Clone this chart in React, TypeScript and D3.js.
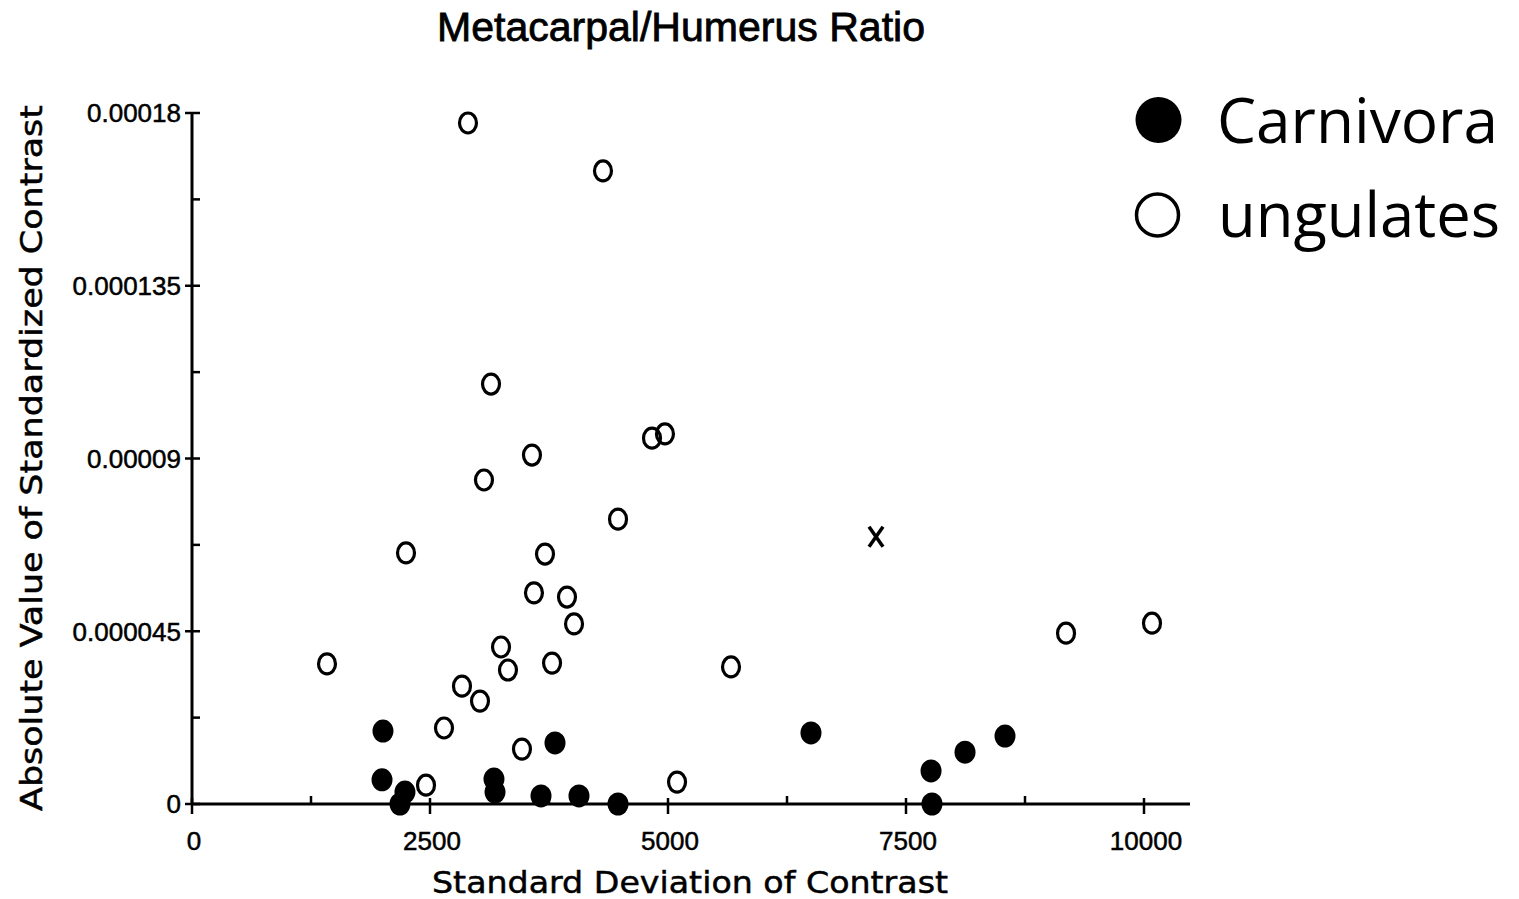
import React from "react";
import { scaleLinear, range } from "d3";

// ungulates (open circles): [sd of contrast, |standardized contrast|]
const ungulatesX = [2899, 4317, 3141, 3571, 4832, 4968, 3067, 4475, 2248, 3708, 3592, 3939, 4013,
  1418, 3246, 3319, 3782, 2836, 3025, 2647, 3466, 2458, 5095, 5662, 9181, 10084];
const ungulatesY = [0.0001774, 0.0001649, 0.0001094, 0.0000909, 0.0000953, 0.0000964, 0.0000844,
  0.0000742, 0.0000654, 0.0000651, 0.000055, 0.0000539, 0.0000469, 0.0000365, 0.0000409, 0.0000349,
  0.0000367, 0.0000307, 0.0000268, 0.0000198, 0.0000143, 0.0000049, 0.0000057, 0.0000357, 0.0000445,
  0.0000471];

// Carnivora (filled circles)
const carnivoraX = [2006, 1996, 2237, 2185, 3172, 3183, 3813, 3666, 4065, 4475, 6502, 7763, 8120, 8540, 7773];
const carnivoraY = [0.000019, 0.0000063, 0.0000031, 0, 0.0000065, 0.0000031, 0.0000159, 0.0000021,
  0.0000021, 0, 0.0000185, 0.0000086, 0.0000135, 0.0000177, 0];

// the single "x" point
const outlierX = [7185];
const outlierY = [0.0000696];

const xTicks = [0, 2500, 5000, 7500, 10000];
const yTicks = [0, 0.000045, 0.00009, 0.000135, 0.00018];
const yTickLabels = ["0", "0.000045", "0.00009", "0.000135", "0.00018"];

const App = () => {
  const width = 1519;
  const height = 899;

  const x = scaleLinear().domain([0, 10000]).range([192, 1144]);
  const y = scaleLinear().domain([0, 0.00018]).range([804, 113]);

  const xMinor = range(1250, 10001, 2500);
  const yMinor = range(0.0000225, 0.00018, 0.000045);

  const tickFont = "'Liberation Sans', Arial, sans-serif";

  const open = ungulatesX.map((d, i) => (
    <ellipse key={"u" + i} cx={x(d)} cy={y(ungulatesY[i])} rx={8.5} ry={10}
      fill="none" stroke="#000" strokeWidth={3.2} />
  ));

  const filled = carnivoraX.map((d, i) => (
    <ellipse key={"c" + i} cx={x(d)} cy={y(carnivoraY[i])} rx={10.5} ry={11.5} fill="#000" />
  ));

  const crosses = outlierX.map((d, i) => {
    const cx = x(d), cy = y(outlierY[i]);
    return (
      <g key={"x" + i} stroke="#000" strokeWidth={3.5}>
        <line x1={cx - 7} y1={cy - 10} x2={cx + 7} y2={cy + 10} />
        <line x1={cx + 7} y1={cy - 10} x2={cx - 7} y2={cy + 10} />
      </g>
    );
  });

  return (
    <svg width={width} height={height} viewBox={`0 0 ${width} ${height}`}
      style={{ position: "absolute", left: 0, top: 0, background: "#fff" }}>
      {/* title */}
      <text x={681} y={41} textAnchor="middle" fontFamily={tickFont} fontSize={41}
        stroke="#000" strokeWidth={0.8}
        textLength={488} lengthAdjust="spacingAndGlyphs">Metacarpal/Humerus Ratio</text>

      {/* axes */}
      <line x1={x(0)} x2={1190} y1={y(0)} y2={y(0)} stroke="#000" strokeWidth={3} />
      <line x1={x(0)} x2={x(0)} y1={y(0.00018)} y2={y(0)} stroke="#000" strokeWidth={3} />

      {yTicks.map((t, i) => (
        <g key={"yt" + i}>
          <line x1={x(0) - 7} x2={x(0) + 8} y1={y(t)} y2={y(t)} stroke="#000" strokeWidth={2.5} />
          <text x={181} y={y(t)} dy="0.36em" textAnchor="end" fontFamily={tickFont} fontSize={26}
            stroke="#000" strokeWidth={0.5}>
            {yTickLabels[i]}
          </text>
        </g>
      ))}
      {yMinor.map((t, i) => (
        <line key={"ym" + i} x1={x(0)} x2={x(0) + 8} y1={y(t)} y2={y(t)} stroke="#000" strokeWidth={2.5} />
      ))}

      {xTicks.map((t, i) => (
        <g key={"xt" + i}>
          <line x1={x(t)} x2={x(t)} y1={y(0) - 6} y2={y(0) + 10} stroke="#000" strokeWidth={2.5} />
          <text x={x(t) + 2} y={850} textAnchor="middle" fontFamily={tickFont} fontSize={26}
            stroke="#000" strokeWidth={0.5}>{t}</text>
        </g>
      ))}
      {xMinor.map((t, i) => (
        <line key={"xm" + i} x1={x(t)} x2={x(t)} y1={y(0) - 8} y2={y(0)} stroke="#000" strokeWidth={2.5} />
      ))}

      {/* axis titles */}
      <text x={690} y={893} textAnchor="middle" fontFamily="'DejaVu Sans', sans-serif" fontSize={31}
        stroke="#000" strokeWidth={0.5}
        textLength={516} lengthAdjust="spacingAndGlyphs">Standard Deviation of Contrast</text>
      <text transform="translate(42,458) rotate(-90)" textAnchor="middle"
        fontFamily="'DejaVu Sans', sans-serif" fontSize={31} stroke="#000" strokeWidth={0.5}
        textLength={706} lengthAdjust="spacingAndGlyphs">Absolute Value of Standardized Contrast</text>

      {/* points */}
      {open}
      {filled}
      {crosses}

      {/* legend */}
      <circle cx={1158.5} cy={120} r={23} fill="#000" />
      <text x={1217} y={143} fontFamily="'Open Sans', sans-serif" fontSize={62}
        textLength={281} lengthAdjust="spacingAndGlyphs">Carnivora</text>
      <circle cx={1157.5} cy={215} r={21} fill="none" stroke="#000" strokeWidth={3.5} />
      <text x={1218} y={237} fontFamily="'Open Sans', sans-serif" fontSize={62}
        textLength={282} lengthAdjust="spacingAndGlyphs">ungulates</text>
    </svg>
  );
};

export default App;
